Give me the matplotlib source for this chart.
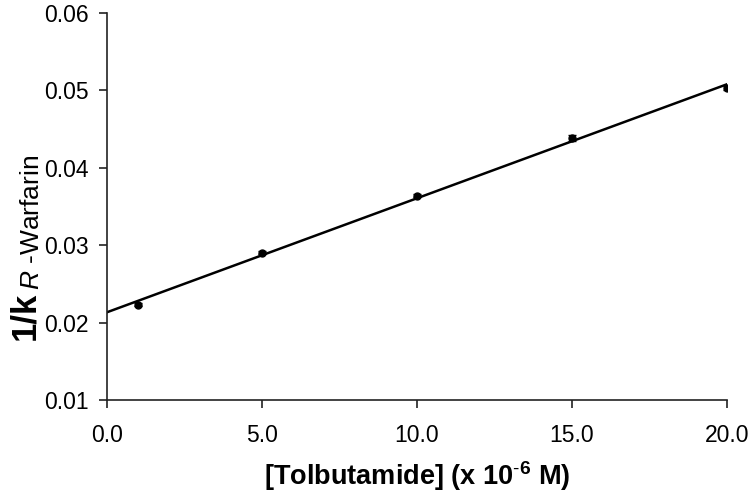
import numpy as np
import matplotlib
matplotlib.use("Agg")
import matplotlib.pyplot as plt

plt.rcParams['font.family'] = ['Liberation Sans', 'DejaVu Sans']
plt.rcParams['mathtext.fontset'] = 'custom'
plt.rcParams['mathtext.rm'] = 'Liberation Sans'
plt.rcParams['mathtext.it'] = 'Liberation Sans:italic'
plt.rcParams['mathtext.bf'] = 'Liberation Sans:bold'

# Data
tolbutamide = [1.0, 5.0, 10.0, 15.0, 20.0]
inv_k = [0.0223, 0.0290, 0.0364, 0.0438, 0.0503]
err = [0.0002, 0.0002, 0.0002, 0.0004, 0.0003]
xticks = [0.0, 5.0, 10.0, 15.0, 20.0]
yticks = [0.01, 0.02, 0.03, 0.04, 0.05, 0.06]

W, H = 751, 501
fig = plt.figure(figsize=(W / 100, H / 100), dpi=100)
ax = fig.add_axes([107 / W, 1 - 400 / H, (727 - 107) / W, (400 - 13) / H])

slope, intercept = np.polyfit(tolbutamide, inv_k, 1)
xf = np.array([0.0, max(tolbutamide)])
ax.plot(xf, intercept + slope * xf, color='black', lw=1.8, zorder=2)
ax.errorbar(tolbutamide, inv_k, yerr=err, fmt='o', color='black', ms=5,
            ecolor='black', elinewidth=1.2, capsize=3, zorder=3)

ax.set_xlim(0, 20)
ax.set_ylim(0.01, 0.06)
ax.set_xticks(xticks)
ax.set_xticklabels([f"{v:.1f}" for v in xticks])
ax.set_yticks(yticks)
ax.set_yticklabels([f"{v:.2f}" for v in yticks])

for s in ['top', 'right']:
    ax.spines[s].set_visible(False)
for s in ['left', 'bottom']:
    ax.spines[s].set_color('#222222')
    ax.spines[s].set_linewidth(1.2)
ax.tick_params(axis='both', direction='out', length=6, width=1.2,
               colors='#222222', labelsize=16.5, labelcolor='black', pad=7)
ax.tick_params(axis='x', pad=11)

ax.set_xlabel(r'[Tolbutamide] (x 10$^{\mathbf{\text{-}6}}$ M)', fontsize=19.5,
              fontweight='bold', labelpad=9)

# y label built from a bold main part and a smaller subscript part
bx, by = 34, 340  # baseline start of label, pixels from top-left
fig.canvas.draw()
renderer = fig.canvas.get_renderer()
t1 = fig.text(bx / W, 1 - by / H, '1/k', rotation=90, rotation_mode='anchor',
              ha='left', va='baseline', fontsize=25, fontweight='bold')
len1 = t1.get_window_extent(renderer).height
t2 = fig.text((bx + 5) / W, 1 - (by - len1 - 2) / H, r'$\mathit{R}$ -Warfarin',
              rotation=90, rotation_mode='anchor', ha='left', va='baseline',
              fontsize=19)

fig.savefig('out.png', dpi=100)
